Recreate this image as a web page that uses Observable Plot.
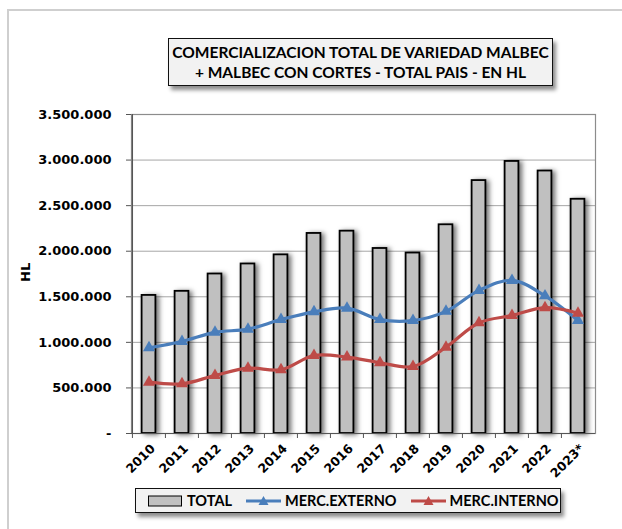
<!DOCTYPE html>
<html>
<head>
<meta charset="utf-8">
<script src="https://cdn.jsdelivr.net/npm/d3@7"></script>
<script src="https://cdn.jsdelivr.net/npm/@observablehq/plot@0.6"></script>
<style>
  html, body { margin: 0; padding: 0; background: #fff; }
  #wrap { position: relative; width: 622px; height: 529px; overflow: hidden; font-family: Lato, "Open Sans", sans-serif; }
  #outer { position: absolute; left: 7px; top: 9px; width: 640px; height: 560px; border: 2px solid #cfcfcf; box-sizing: border-box; }
  #title { position: absolute; left: 168px; top: 38px; width: 385px; height: 48px; box-sizing: border-box;
    background: #f2f2f2; border: 1.5px solid #111; box-shadow: 3px 4px 4px rgba(0,0,0,0.45);
    font-weight: 700; font-size: 15.5px; line-height: 20px; text-align: center; padding-top: 3px; color: #000; white-space: nowrap; }
  #legend { position: absolute; left: 135px; top: 488px; width: 426px; height: 25px; box-sizing: border-box;
    background: #f2f2f2; border: 1.5px solid #111; box-shadow: 3px 4px 4px rgba(0,0,0,0.45);
    font-weight: 700; font-size: 14.5px; display: flex; align-items: center; justify-content: flex-start; padding-left: 12px; gap: 14px; color: #000; white-space: nowrap; }
  .li { display: flex; align-items: center; gap: 4px; }
  #chart { position: absolute; left: 0; top: 0; }
  g[aria-label="bar"] rect { filter: drop-shadow(3px 1px 2.5px rgba(0,0,0,0.55)); }
</style>
</head>
<body>
<div id="wrap">
  <div id="outer"></div>
  <div id="chart"></div>
  <div id="title">COMERCIALIZACION TOTAL DE VARIEDAD MALBEC<br>+ MALBEC CON CORTES - TOTAL PAIS - EN HL</div>
  <div id="legend"></div>
</div>
<script>
const years = ["2010","2011","2012","2013","2014","2015","2016","2017","2018","2019","2020","2021","2022","2023*"];
const total = [1515000,1560000,1750000,1860000,1960000,2195000,2220000,2030000,1980000,2290000,2775000,2985000,2880000,2570000];
const externo = [940000,1010000,1110000,1145000,1250000,1335000,1375000,1250000,1240000,1340000,1570000,1680000,1510000,1240000];
const interno = [563000,545000,637000,717000,700000,856000,838000,776000,735000,947000,1215000,1295000,1380000,1320000];
const yTicks = [0,500000,1000000,1500000,2000000,2500000,3000000,3500000];
const seriesNames = ["TOTAL","MERC.EXTERNO","MERC.INTERNO"];
const colors = {"TOTAL":"#c0c0c0","MERC.EXTERNO":"#4a7ebb","MERC.INTERNO":"#be4b48"};

const rows = years.map((y,i)=>({year:y,total:total[i],externo:externo[i],interno:interno[i]}));
const fmt = d3.formatLocale({decimal:",",thousands:".",grouping:[3],currency:["",""]}).format(",");

const W = 622, H = 529, mL = 131, mR = 27, mT = 114, mB = 96;
const bw = (W - mL - mR) / years.length;
const tickFont = "'DejaVu Sans', sans-serif";

const chart = Plot.plot({
  width: W, height: H,
  marginLeft: mL, marginRight: mR, marginTop: mT, marginBottom: mB,
  style: {fontFamily: tickFont, fontSize: "12.5px", color: "#000", background: "transparent", overflow: "visible"},
  x: {type: "band", domain: years, padding: 0},
  y: {domain: [0, 3500000]},
  marks: [
    Plot.gridY(yTicks, {stroke: "#a6a6a6", strokeOpacity: 1, strokeWidth: 1}),
    Plot.frame({stroke: "#8c8c8c", strokeWidth: 1.2}),
    Plot.barY(rows, {x: "year", y: "total", fill: colors.TOTAL, stroke: "#000", strokeWidth: 1.8, insetLeft: 9.6, insetRight: 9.6}),
    Plot.line(rows, {x: "year", y: "externo", stroke: colors["MERC.EXTERNO"], strokeWidth: 3.2, curve: "catmull-rom"}),
    Plot.dot(rows, {x: "year", y: "externo", symbol: "triangle", fill: colors["MERC.EXTERNO"], r: 4.5}),
    Plot.line(rows, {x: "year", y: "interno", stroke: colors["MERC.INTERNO"], strokeWidth: 3.2, curve: "catmull-rom"}),
    Plot.dot(rows, {x: "year", y: "interno", symbol: "triangle", fill: colors["MERC.INTERNO"], r: 4.5}),
    Plot.ruleY([0], {stroke: "#555", strokeWidth: 1.2}),
    Plot.ruleX([years[0]], {stroke: "#555", strokeWidth: 1.2, dx: -bw/2}),
    Plot.axisY({ticks: yTicks, tickFormat: d => d === 0 ? "-" : fmt(d), tickSize: 5, tickPadding: 15, fontWeight: "bold", fontSize: 13, label: null, stroke: "#555"}),
    Plot.axisX({tickSize: 5, tickFormat: () => "", dx: -bw/2, stroke: "#555", label: null}),
    Plot.axisX({tickSize: 0, tickRotate: -45, tickPadding: 13, fontWeight: "bold", fontSize: 12.5, label: null, dx: 4}),
    Plot.text(["HL"], {frameAnchor: "left", dx: -106, dy: 8, rotate: -90, fontWeight: "bold", fontSize: 13})
  ]
});
document.getElementById("chart").appendChild(chart);

const legend = document.getElementById("legend");
seriesNames.forEach((name, i) => {
  const item = document.createElement("div");
  item.className = "li";
  let sw;
  if (i === 0) {
    sw = `<svg width="35" height="14"><rect x="0.5" y="2" width="33" height="10" fill="${colors[name]}" stroke="#000" stroke-width="1"/></svg>`;
  } else {
    const c = colors[name];
    sw = `<svg width="35" height="14"><line x1="0" y1="7" x2="35" y2="7" stroke="${c}" stroke-width="3"/><path d="M17.5,2 L22.5,11 L12.5,11 Z" fill="${c}"/></svg>`;
  }
  item.innerHTML = sw + `<span>${name}</span>`;
  legend.appendChild(item);
});
</script>
</body>
</html>
